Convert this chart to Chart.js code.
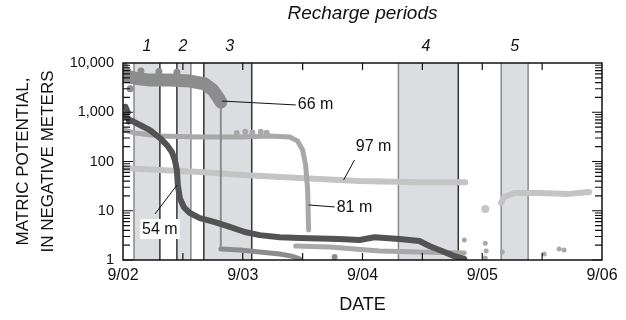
<!DOCTYPE html>
<html>
<head>
<meta charset="utf-8">
<script src="https://cdn.jsdelivr.net/npm/chart.js@4.4.1/dist/chart.umd.min.js"></script>
<style>
  html, body { margin: 0; padding: 0; background: #fff; }
</style>
</head>
<body>
<canvas id="chart" width="626" height="320"></canvas>
<script>
// --- axis labels ---
const dayTicks = [0, 1, 2, 3, 4];
const dayLabels = ["9/02", "9/03", "9/04", "9/05", "9/06"];
const valueTicks = [1, 10, 100, 1000, 10000];

// --- recharge periods (days after 9/02 00:00) ---
const rechargeNames = ["1", "2", "3", "4", "5"];
const rechargeStart = [0.092, 0.45, 0.675, 2.3, 3.158];
const rechargeEnd = [0.308, 0.567, 1.075, 2.8, 3.383];
const rechargeLabelDay = [0.2, 0.5, 0.89, 2.53, 3.27];

// --- 54 m ---
const days54 = [0, 0.058, 0.142, 0.225, 0.308, 0.367, 0.408, 0.433, 0.45, 0.458, 0.475, 0.508, 0.558, 0.642, 0.767, 0.892, 1.017, 1.142, 1.308, 1.475, 1.808, 1.975, 2.1, 2.308, 2.475, 2.558, 2.642, 2.767, 2.85];
const vals54 = [900, 700, 550, 435, 300, 216, 156, 107, 67, 33, 18, 11.9, 9, 7.1, 5.9, 4.7, 3.7, 3.2, 2.9, 2.8, 2.67, 2.55, 2.9, 2.67, 2.43, 1.92, 1.6, 1.2, 1.05];
const days54Spread = [0.02, 0.03, 0.04, 0.05];
const vals54Spread = [1300, 1150, 1000, 650];

// --- 66 m ---
const days66High = [0, 0.1, 0.225, 0.392, 0.558, 0.683, 0.75, 0.792, 0.817];
const vals66High = [5700, 4900, 4500, 4500, 4300, 3750, 2830, 2040, 1610];
const days66Drop = [0.817, 0.817];
const vals66Drop = [1610, 1.67];
const days66Low = [0.817, 0.975, 1.142, 1.308, 1.408, 1.475];
const vals66Low = [1.67, 1.6, 1.45, 1.32, 1.2, 1.05];
const days66Spread = [0.01, 0.02, 0.04, 0.06, 0.15, 0.3, 0.45];
const vals66Spread = [9000, 7800, 6800, 3000, 6900, 6700, 6500];

// --- 81 m ---
const days81 = [0, 0.1, 0.308, 0.642, 0.975, 1.225, 1.392, 1.458, 1.5, 1.525, 1.542, 1.55];
const vals81 = [437, 380, 330, 314, 314, 330, 314, 261, 171, 85, 26, 4.07];
const days81Low = [1.442, 1.725, 1.933, 2.142, 2.475, 2.85];
const vals81Low = [1.92, 1.84, 1.67, 1.52, 1.45, 1.39];
const days81Spread = [0.95, 1.02, 1.08, 1.15, 1.2];
const vals81Spread = [380, 400, 390, 400, 385];

// --- 97 m ---
const days97 = [0, 0.308, 0.642, 1.0, 1.475, 1.975, 2.475, 2.858];
const vals97 = [74, 67, 61, 53, 46, 40, 38, 38];
const days97Late = [3.158, 3.183, 3.267, 3.475, 3.725, 3.892];
const vals97Late = [14.4, 19, 23, 23, 22, 24];

// --- loose readings after 9/04 12:00 ---
const daysLoose = [2.85, 3.025, 3.033, 3.025, 3.167, 3.517, 3.642, 3.683];
const valsLoose = [2.55, 2.2, 1.52, 1.1, 1.45, 1.32, 1.67, 1.6];
const daysStray97 = [3.025];
const valsStray97 = [10.8];
const daysStray66 = [1.767];
const valsStray66 = [1.15];

// --- depth labels and their leader lines ---
const depthText = ["66 m", "97 m", "81 m", "54 m"];
const depthDay = [1.608, 2.092, 1.933, 0.308];
const depthVal = [1470, 206, 11.9, 4.26];
const leaderDayA = [0.825, 1.933, 1.55, 0.267];
const leaderValA = [1690, 107, 13.1, 8.6];
const leaderDayB = [1.458, 1.842, 1.775, 0.45];
const leaderValB = [1400, 42, 11.9, 33];

const FONT = "'Liberation Sans', Arial, sans-serif";
const SHADE = "#dcdde0";
const C54 = "#535353", C66 = "#8c8c8c", C81 = "#a8a8a8", C97 = "#c4c4c4";

const pts = (xs, ys) => xs.map((d, i) => ({ x: d, y: ys[i] }));

function lineSet(xs, ys, color, width) {
	return {
		data: pts(xs, ys),
		borderColor: color,
		borderWidth: width,
		borderCapStyle: "round",
		borderJoinStyle: "round",
		pointRadius: 0,
		fill: false,
		tension: 0,
	};
}
function dotSet(xs, ys, color, r) {
	return {
		data: pts(xs, ys),
		showLine: false,
		pointRadius: r,
		pointBorderWidth: 0,
		pointBackgroundColor: color,
	};
}

// заливка периодов пополнения + края
const edgeColors = [["#8a8a8a", "#333"], ["#333", "#8a8a8a"], ["#333", "#333"], ["#8a8a8a", "#333"], ["#8a8a8a", "#8a8a8a"]];
const rechargePlugin = {
	id: "recharge",
	beforeDatasetsDraw(chart) {
		const { ctx, chartArea: a, scales: { x } } = chart;
		ctx.save();
		rechargeStart.forEach((s, i) => {
			const x0 = x.getPixelForValue(s);
			const x1 = x.getPixelForValue(rechargeEnd[i]);
			ctx.fillStyle = SHADE;
			ctx.fillRect(x0, a.top, x1 - x0, a.bottom - a.top);
			ctx.lineWidth = 1.5;
			[x0, x1].forEach((px, k) => {
				ctx.strokeStyle = edgeColors[i][k];
				ctx.beginPath();
				ctx.moveTo(px, a.top);
				ctx.lineTo(px, a.bottom);
				ctx.stroke();
			});
		});
		ctx.restore();
	},
	afterDraw(chart) {
		const { ctx, scales: { x } } = chart;
		ctx.save();
		ctx.fillStyle = "#111";
		ctx.textAlign = "center";
		ctx.textBaseline = "middle";
		ctx.font = "italic 19px " + FONT;
		ctx.fillText("Recharge periods", x.getPixelForValue(2.0), 14);
		ctx.font = "italic 16px " + FONT;
		rechargeNames.forEach((n, i) => {
			ctx.fillText(n, x.getPixelForValue(rechargeLabelDay[i]), 47);
		});
		ctx.restore();
	},
};

// подписи глубин с выносками
const depthPlugin = {
	id: "depths",
	afterDatasetsDraw(chart) {
		const { ctx, scales: { x, y } } = chart;
		ctx.save();
		ctx.font = "16px " + FONT;
		ctx.textAlign = "center";
		ctx.textBaseline = "middle";
		depthText.forEach((t, i) => {
			ctx.strokeStyle = "#111";
			ctx.lineWidth = 1;
			ctx.beginPath();
			ctx.moveTo(x.getPixelForValue(leaderDayA[i]), y.getPixelForValue(leaderValA[i]));
			ctx.lineTo(x.getPixelForValue(leaderDayB[i]), y.getPixelForValue(leaderValB[i]));
			ctx.stroke();
			const cx = x.getPixelForValue(depthDay[i]);
			const cy = y.getPixelForValue(depthVal[i]);
			const w = ctx.measureText(t).width;
			ctx.fillStyle = "#fff";
			ctx.fillRect(cx - w / 2 - 2, cy - 10, w + 4, 20);
			ctx.fillStyle = "#111";
			ctx.fillText(t, cx, cy + 1);
		});
		ctx.restore();
	},
};

// рамка и внутренние засечки
const framePlugin = {
	id: "frame",
	afterDraw(chart) {
		const { ctx, chartArea: a, scales: { x, y } } = chart;
		ctx.save();
		ctx.strokeStyle = "#111";
		ctx.lineWidth = 1.5;
		ctx.strokeRect(a.left, a.top, a.right - a.left, a.bottom - a.top);
		ctx.lineWidth = 1.2;
		ctx.beginPath();
		for (let d = 0.5; d < 4; d += 0.5) {
			const px = x.getPixelForValue(d);
			ctx.moveTo(px, a.top);
			ctx.lineTo(px, a.top + 7);
			ctx.moveTo(px, a.bottom);
			ctx.lineTo(px, a.bottom - 7);
		}
		for (let n = 0; n < 4; n++) {
			for (let k = 1; k <= 9; k++) {
				const py = y.getPixelForValue(k * Math.pow(10, n));
				const len = k === 1 ? 10 : 7;
				ctx.moveTo(a.left, py);
				ctx.lineTo(a.left + len, py);
				ctx.moveTo(a.right, py);
				ctx.lineTo(a.right - len, py);
			}
		}
		ctx.stroke();
		ctx.restore();
	},
};

const datasets = [
	lineSet(days54, vals54, C54, 6),
	dotSet(days54Spread, vals54Spread, C54, 3),
	lineSet(days66High, vals66High, C66, 13),
	dotSet(days66Spread, vals66Spread, C66, 3.5),
	lineSet(days66Drop, vals66Drop, C66, 2),
	lineSet(days66Low, vals66Low, C66, 5),
	dotSet(daysStray66, valsStray66, C66, 3),
	lineSet(days81, vals81, C81, 5),
	dotSet(days81Spread, vals81Spread, C81, 3),
	lineSet(days81Low, vals81Low, C81, 5),
	lineSet(days97, vals97, C97, 6),
	lineSet(days97Late, vals97Late, C97, 6),
	dotSet(daysStray97, valsStray97, C97, 4),
	dotSet(daysLoose, valsLoose, C81, 2.5),
];

new Chart(document.getElementById("chart"), {
	type: "line",
	data: { datasets },
	options: {
		responsive: false,
		animation: false,
		layout: { padding: { top: 63, right: 24, left: 0, bottom: 0 } },
		plugins: { legend: { display: false }, tooltip: { enabled: false } },
		scales: {
			x: {
				type: "linear",
				min: 0,
				max: 4,
				grid: { display: false, drawTicks: false },
				border: { display: false },
				afterBuildTicks: (s) => { s.ticks = dayTicks.map((v) => ({ value: v })); },
				afterFit: (s) => { s.height = 60; },
				ticks: {
					autoSkip: false,
					maxRotation: 0,
					padding: 6,
					color: "#111",
					font: { family: FONT, size: 16 },
					callback: (v) => dayLabels[dayTicks.indexOf(v)],
				},
				title: {
					display: true,
					text: "DATE",
					color: "#111",
					font: { family: FONT, size: 18 },
					padding: { top: 0, bottom: 4 },
				},
			},
			y: {
				type: "logarithmic",
				min: 1,
				max: 10000,
				grid: { display: false, drawTicks: false },
				border: { display: false },
				afterBuildTicks: (s) => { s.ticks = valueTicks.map((v) => ({ value: v })); },
				afterFit: (s) => { s.width = 123; },
				ticks: {
					autoSkip: false,
					padding: 9,
					color: "#111",
					font: { family: FONT, size: 14.5 },
					callback: (v) => Number(v).toLocaleString("en-US"),
				},
				title: {
					display: true,
					text: ["MATRIC POTENTIAL,", "IN NEGATIVE METERS"],
					color: "#111",
					font: { family: FONT, size: 17, lineHeight: 1.45 },
					padding: { top: 11, bottom: 0 },
				},
			},
		},
	},
	plugins: [rechargePlugin, depthPlugin, framePlugin],
});
</script>
</body>
</html>
